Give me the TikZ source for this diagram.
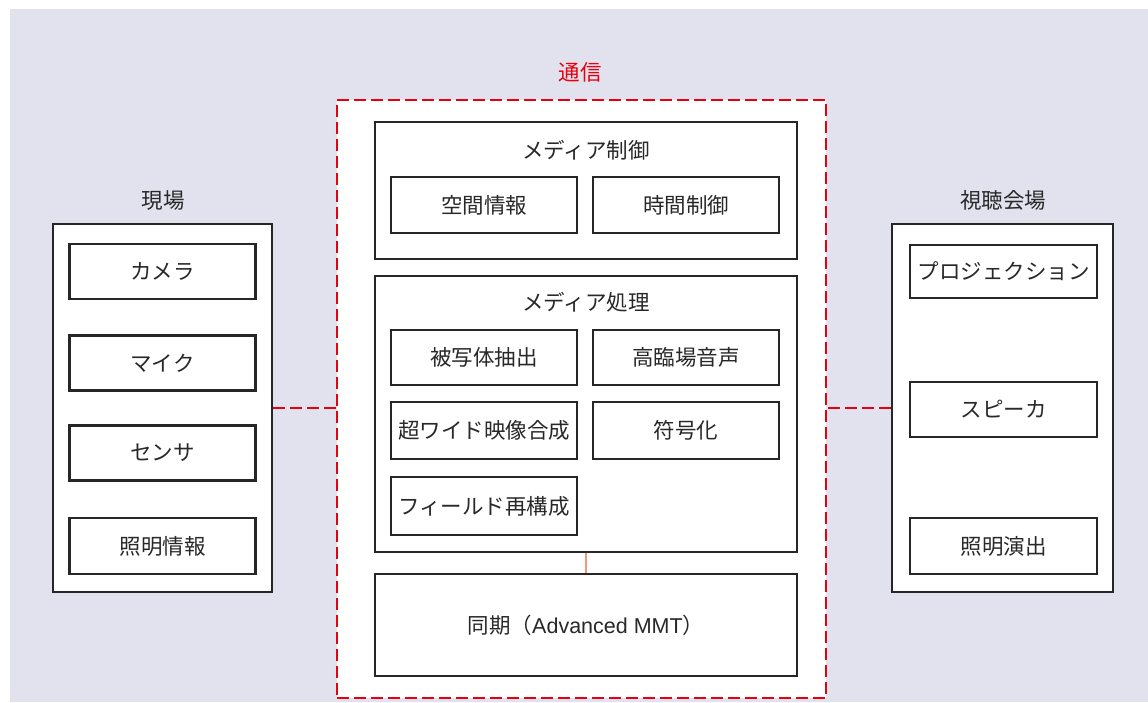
\documentclass[tikz,border=0pt]{standalone}
\usepackage{fontspec}
\newfontfamily\jpfont{Noto Sans CJK JP}
\newfontfamily\latinfont{Liberation Sans}
\usetikzlibrary{positioning}

\definecolor{bgpurple}{RGB}{226,226,239}
\definecolor{netred}{RGB}{232,0,14}
\definecolor{linkorange}{RGB}{244,150,120}
\definecolor{boxline}{RGB}{38,38,38}
\definecolor{labeltext}{RGB}{40,40,40}

\tikzstyle{group} = [rectangle, draw=boxline, line width=2.6pt, fill=white, inner sep=0pt]
\tikzstyle{item} = [rectangle, minimum width=186pt, minimum height=55pt, draw=boxline, line width=2.6pt, fill=white, text centered, text=labeltext, font=\jpfont\fontsize{21.5}{25}\selectfont, inner sep=0pt]
\tikzstyle{title} = [text=labeltext, font=\jpfont\fontsize{21.5}{25}\selectfont, inner sep=0pt]
\tikzstyle{netlink} = [netred, line width=2.2pt, dash pattern=on 12pt off 5pt]

\begin{document}
\begin{tikzpicture}[x=1pt, y=-1pt]
	\useasboundingbox (0,0) rectangle (1148,702);
	\fill[white] (0,0) rectangle (1148,702);
	\fill[bgpurple] (10,9) rectangle (1148,702);
	% Place nodes
	\node [group, minimum width=219pt, minimum height=368pt] (Genba) at (162.5,408) {};
	\node [title] (GenbaTitle) at (163,200) {現場};
	\node [item] (Camera) at (162.5,271.5) {カメラ};
	\node [item] (Mic) at (162.5,363) {マイク};
	\node [item] (Sensor) at (162.5,453) {センサ};
	\node [item, minimum height=56pt] (LightInfo) at (162.5,546) {照明情報};

	\node [group, minimum width=221pt, minimum height=368pt] (Venue) at (1002.5,408) {};
	\node [title] (VenueTitle) at (1003,200) {視聴会場};
	\node [item, minimum width=187pt, minimum height=53pt] (Projection) at (1003.5,271.5) {プロジェクション};
	\node [item, minimum width=187pt] (Speaker) at (1003.5,409.5) {スピーカ};
	\node [item, minimum width=187pt, minimum height=56pt] (LightShow) at (1003.5,546) {照明演出};

	\node [group, draw=netred, line width=2.2pt, dash pattern=on 12pt off 5pt, minimum width=489pt, minimum height=598pt] (Tsushin) at (581.5,399) {};
	\node [title, text=netred] (TsushinTitle) at (580,72) {通信};

	\node [group, minimum width=422pt, minimum height=137pt] (MediaCtrl) at (586,190.5) {};
	\node [title] (MediaCtrlTitle) at (586,150) {メディア制御};
	\node [item, minimum height=56pt] (SpaceInfo) at (484,205) {空間情報};
	\node [item, minimum height=56pt] (TimeCtrl) at (686,205) {時間制御};

	\node [group, minimum width=422pt, minimum height=276pt] (MediaProc) at (586,414) {};
	\node [title] (MediaProcTitle) at (586,302) {メディア処理};
	\node [item] (Extract) at (484,357.5) {被写体抽出};
	\node [item] (Audio) at (686,357.5) {高臨場音声};
	\node [item, minimum height=57pt] (WideVideo) at (484,430.5) {超ワイド映像合成};
	\node [item, minimum height=57pt] (Encode) at (686,430.5) {符号化};
	\node [item, minimum height=58pt] (FieldRecon) at (484,506) {フィールド再構成};

	\node [group, minimum width=422pt, minimum height=102pt, text=labeltext, font=\jpfont\fontsize{21.5}{25}\selectfont] (Sync) at (586,625) {同期（{\latinfont Advanced MMT}）};
	% Draw edges
	\draw [netlink] (Genba.east) -- (Tsushin.west |- Genba.east);
	\draw [netlink] (Venue.west) -- (Tsushin.east |- Venue.west);
	\draw [linkorange, line width=2pt] (MediaProc.south) -- (Sync.north);
\end{tikzpicture}
\end{document}
